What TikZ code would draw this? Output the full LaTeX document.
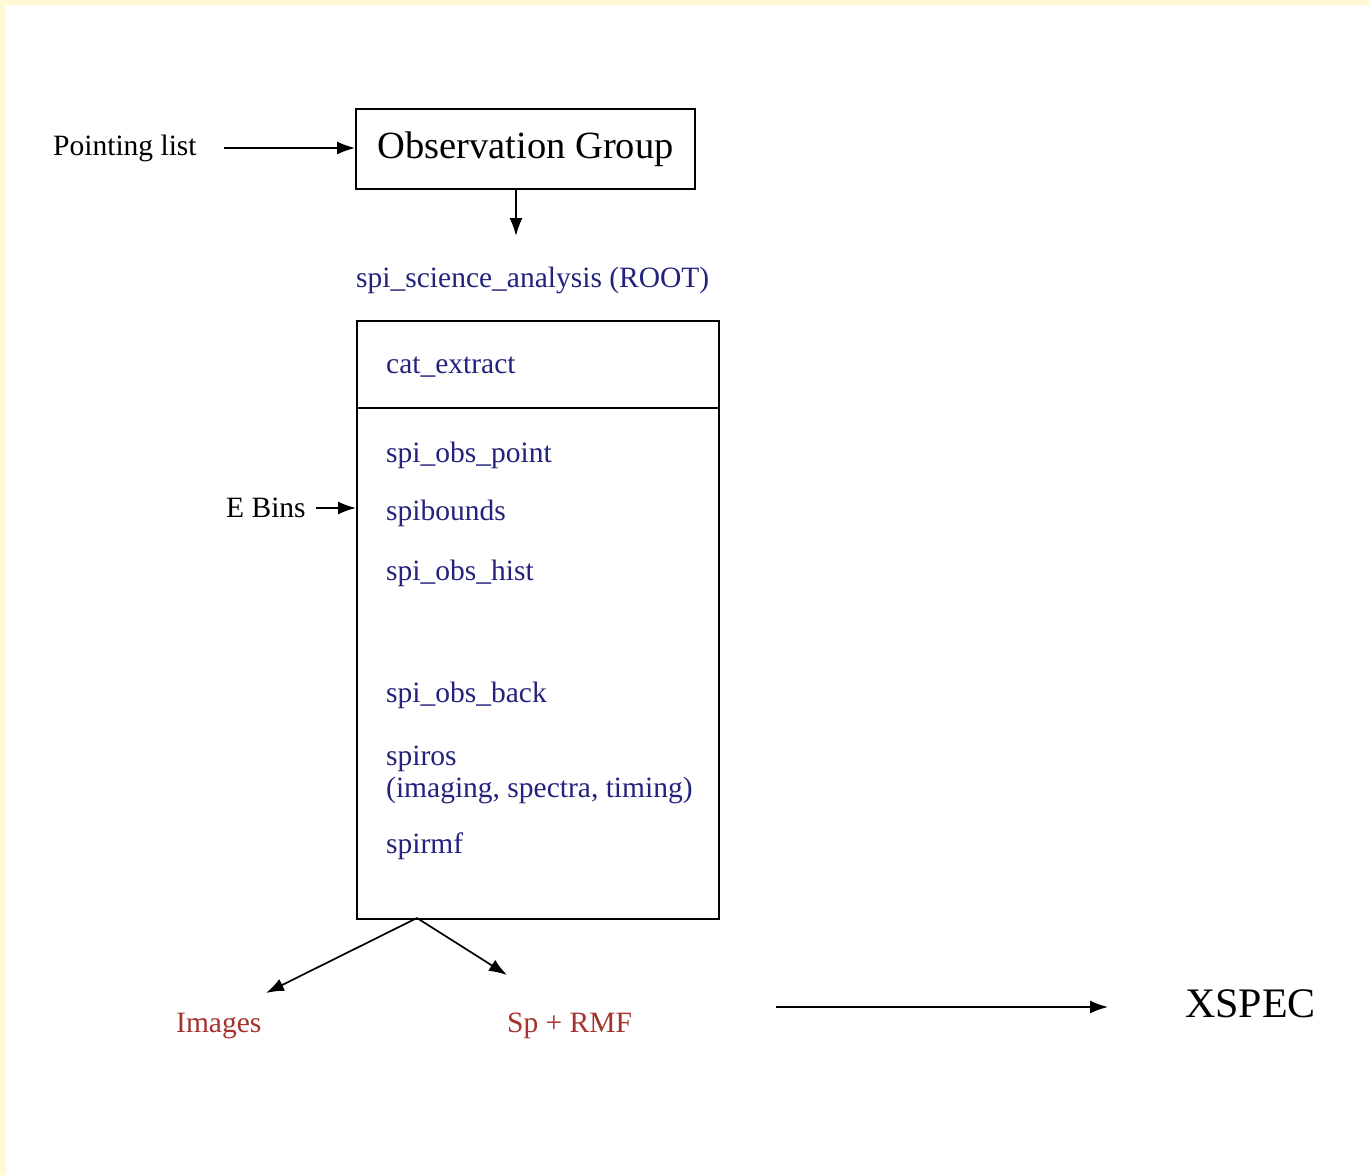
\documentclass[tikz,border=0pt]{standalone}
\usepackage{fontspec}
\setmainfont{Liberation Serif}
\usetikzlibrary{arrows.meta}
\definecolor{frameyellow}{RGB}{255,250,212}
\definecolor{labblue}{RGB}{35,35,125}
\definecolor{labred}{RGB}{165,50,45}
\begin{document}
\begin{tikzpicture}[x=1pt,y=-1pt,
  arr/.style={line width=1.7pt, -{Latex[length=18pt,width=13pt]}},
  lbl/.style={inner sep=0pt, anchor=base west, font=\fontsize{29.5}{33}\selectfont},
  tool/.style={lbl, text=labblue},
  outp/.style={lbl, text=labred},
  boxed/.style={draw, line width=1.8pt, inner sep=0pt}]
\useasboundingbox (0,0) rectangle (1369,1175);
\fill[white] (0,0) rectangle (1369,1175);
\fill[frameyellow] (0,0) rectangle (1369,5);
\fill[frameyellow] (0,0) rectangle (6,1175);

% top
\node[lbl] (pl) at (53,155) {Pointing list};
\node[boxed, minimum width=339pt, minimum height=80pt,
      font=\fontsize{38.5}{42}\selectfont] (og) at (525.5,149) {Observation Group};
\coordinate (plend) at (224,148);
\draw[arr] (plend) -- (og.west |- plend);

\node[tool] (ssa) at (356,287) {spi\_science\_analysis (ROOT)};
\coordinate (ssatop) at (516,236);
\draw[arr] (og.south -| ssatop) -- (ssatop);

% main box
\node[boxed, minimum width=362pt, minimum height=598pt, anchor=north west] (main) at (356,320) {};
\coordinate (dl) at (356,408);
\draw[line width=1.8pt] (main.west |- dl) -- (main.east |- dl);

\node[tool] (ce) at (386,373) {cat\_extract};
\node[tool] (sop) at (386,462) {spi\_obs\_point};
\node[tool] (sb) at (386,520) {spibounds};
\node[tool] (soh) at (386,580) {spi\_obs\_hist};
\node[tool] (sob) at (386,702) {spi\_obs\_back};
\node[tool] (sr) at (386,765) {spiros};
\node[tool] (srp) at (386,797) {(imaging, spectra, timing)};
\node[tool] (srm) at (386,853) {spirmf};

\node[lbl] (eb) at (226,517) {E Bins};
\coordinate (ebs) at (316,508);
\draw[arr] (ebs) -- (main.west |- ebs);

% outputs
\coordinate (split) at (417,918);
\coordinate (imgtip) at (266,993);
\coordinate (sptip) at (507,975);
\draw[arr] (split) -- (imgtip);
\draw[arr] (split) -- (sptip);
\node[outp] (img) at (176,1032) {Images};
\node[outp] (sp) at (507,1032) {Sp + RMF};

\node[lbl, font=\fontsize{42}{46}\selectfont] (xs) at (1185,1017) {XSPEC};
\coordinate (xsarr) at (776,1007);
\draw[arr] (xsarr) -- (xsarr -| 1108,0);
\end{tikzpicture}
\end{document}
